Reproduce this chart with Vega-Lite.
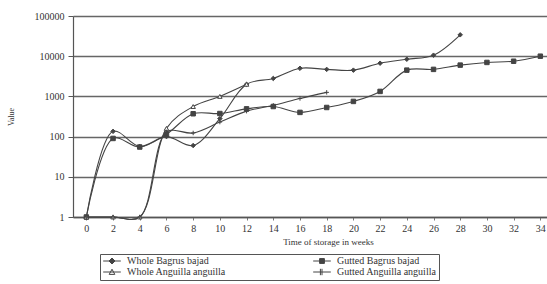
{
  "$schema": "https://vega.github.io/schema/vega-lite/v6.json",
  "width": 474,
  "height": 201,
  "autosize": "none",
  "padding": {"left": 73, "top": 16, "right": 0, "bottom": 67},
  "background": "white",
  "config": {"font": "Liberation Serif", "view": {"stroke": null}},
  "data": {"values": [
    {"series": "Whole Bagrus bajad", "week": 0, "value": 1},
    {"series": "Whole Bagrus bajad", "week": 2, "value": 135},
    {"series": "Whole Bagrus bajad", "week": 4, "value": 57},
    {"series": "Whole Bagrus bajad", "week": 6, "value": 100},
    {"series": "Whole Bagrus bajad", "week": 8, "value": 60},
    {"series": "Whole Bagrus bajad", "week": 10, "value": 280},
    {"series": "Whole Bagrus bajad", "week": 12, "value": 2000},
    {"series": "Whole Bagrus bajad", "week": 14, "value": 2800},
    {"series": "Whole Bagrus bajad", "week": 16, "value": 5000},
    {"series": "Whole Bagrus bajad", "week": 18, "value": 4700},
    {"series": "Whole Bagrus bajad", "week": 20, "value": 4500},
    {"series": "Whole Bagrus bajad", "week": 22, "value": 6700},
    {"series": "Whole Bagrus bajad", "week": 24, "value": 8400},
    {"series": "Whole Bagrus bajad", "week": 26, "value": 10600},
    {"series": "Whole Bagrus bajad", "week": 28, "value": 34000},
    {"series": "Gutted Bagrus bajad", "week": 0, "value": 1},
    {"series": "Gutted Bagrus bajad", "week": 2, "value": 90},
    {"series": "Gutted Bagrus bajad", "week": 4, "value": 55},
    {"series": "Gutted Bagrus bajad", "week": 6, "value": 115},
    {"series": "Gutted Bagrus bajad", "week": 8, "value": 370},
    {"series": "Gutted Bagrus bajad", "week": 10, "value": 375},
    {"series": "Gutted Bagrus bajad", "week": 12, "value": 490},
    {"series": "Gutted Bagrus bajad", "week": 14, "value": 560},
    {"series": "Gutted Bagrus bajad", "week": 16, "value": 400},
    {"series": "Gutted Bagrus bajad", "week": 18, "value": 530},
    {"series": "Gutted Bagrus bajad", "week": 20, "value": 750},
    {"series": "Gutted Bagrus bajad", "week": 22, "value": 1330},
    {"series": "Gutted Bagrus bajad", "week": 24, "value": 4500},
    {"series": "Gutted Bagrus bajad", "week": 26, "value": 4700},
    {"series": "Gutted Bagrus bajad", "week": 28, "value": 6000},
    {"series": "Gutted Bagrus bajad", "week": 30, "value": 7000},
    {"series": "Gutted Bagrus bajad", "week": 32, "value": 7500},
    {"series": "Gutted Bagrus bajad", "week": 34, "value": 10000},
    {"series": "Whole Anguilla anguilla", "week": 0, "value": 1},
    {"series": "Whole Anguilla anguilla", "week": 2, "value": 1},
    {"series": "Whole Anguilla anguilla", "week": 4, "value": 1},
    {"series": "Whole Anguilla anguilla", "week": 6, "value": 160},
    {"series": "Whole Anguilla anguilla", "week": 8, "value": 560},
    {"series": "Whole Anguilla anguilla", "week": 10, "value": 1000},
    {"series": "Whole Anguilla anguilla", "week": 12, "value": 2000},
    {"series": "Gutted Anguilla anguilla", "week": 0, "value": 1},
    {"series": "Gutted Anguilla anguilla", "week": 2, "value": 1},
    {"series": "Gutted Anguilla anguilla", "week": 4, "value": 1},
    {"series": "Gutted Anguilla anguilla", "week": 6, "value": 130},
    {"series": "Gutted Anguilla anguilla", "week": 8, "value": 123},
    {"series": "Gutted Anguilla anguilla", "week": 10, "value": 230},
    {"series": "Gutted Anguilla anguilla", "week": 12, "value": 430},
    {"series": "Gutted Anguilla anguilla", "week": 14, "value": 600},
    {"series": "Gutted Anguilla anguilla", "week": 16, "value": 890},
    {"series": "Gutted Anguilla anguilla", "week": 18, "value": 1260}
  ]},
  "encoding": {
    "x": {
      "field": "week", "type": "quantitative",
      "scale": {"domain": [-1, 34.5], "nice": false, "zero": false},
      "axis": {
        "values": [0, 2, 4, 6, 8, 10, 12, 14, 16, 18, 20, 22, 24, 26, 28, 30, 32, 34],
        "grid": false, "domain": true, "domainColor": "#555", "domainWidth": 1.5,
        "ticks": true, "tickSize": 3, "tickColor": "#777",
        "labelFontSize": 10, "labelColor": "#333", "labelPadding": 3,
        "title": "Time of storage in weeks", "titleFontSize": 9, "titleFontWeight": "normal",
        "titleColor": "#333", "titlePadding": 4, "titleX": 255
      }
    },
    "y": {
      "field": "value", "type": "quantitative",
      "scale": {"type": "log", "domain": [1, 100000], "nice": false},
      "axis": {
        "values": [1, 10, 100, 1000, 10000, 100000],
        "format": "d",
        "grid": true, "gridColor": "#666", "gridWidth": 1.4,
        "domain": true, "domainColor": "#555", "domainWidth": 1.2,
        "ticks": true, "tickSize": 5, "tickColor": "#555",
        "labelFontSize": 10, "labelColor": "#333", "labelPadding": 4,
        "title": "Value", "titleFontSize": 8, "titleFontWeight": "normal", "titleColor": "#333",
        "titleX": -58
      }
    }
  },
  "layer": [
    {
      "mark": {"type": "line", "interpolate": "catmull-rom", "strokeWidth": 1.1, "color": "#444"},
      "encoding": {"detail": {"field": "series"}}
    },
    {
      "mark": {"type": "point", "size": 20, "strokeWidth": 1, "stroke": "#444", "opacity": 1},
      "encoding": {
        "fill": {
          "field": "series", "type": "nominal",
          "scale": {
            "domain": ["Whole Bagrus bajad", "Whole Anguilla anguilla", "Gutted Bagrus bajad", "Gutted Anguilla anguilla"],
            "range": ["#444", "#ffffff", "#444", "#444"]
          },
          "legend": null
        },
        "shape": {
          "field": "series", "type": "nominal",
          "scale": {
            "domain": ["Whole Bagrus bajad", "Whole Anguilla anguilla", "Gutted Bagrus bajad", "Gutted Anguilla anguilla"],
            "range": ["diamond", "triangle-up", "square", "M-1,0L1,0M0,-1L0,1"]
          },
          "legend": null
        }
      }
    },
    {
      "mark": {"type": "point", "size": 64, "strokeWidth": 1, "stroke": "#444", "opacity": 0},
      "encoding": {
        "fill": {
          "field": "series", "type": "nominal",
          "scale": {
            "domain": ["Whole Bagrus bajad", "Whole Anguilla anguilla", "Gutted Bagrus bajad", "Gutted Anguilla anguilla"],
            "range": ["#444", "#ffffff", "#444", "#444"]
          },
          "legend": null
        },
        "shape": {
          "field": "series", "type": "nominal",
          "scale": {
            "domain": ["Whole Bagrus bajad", "Whole Anguilla anguilla", "Gutted Bagrus bajad", "Gutted Anguilla anguilla"],
            "range": [
              "M-2.2,0L2.2,0M0,-0.75L0.75,0L0,0.75L-0.75,0Z",
              "M-2.2,0L2.2,0M0,-0.7L0.7,0.6L-0.7,0.6Z",
              "M-2.2,0L2.2,0M-0.6,-0.6L0.6,-0.6L0.6,0.6L-0.6,0.6Z",
              "M-2.2,0L2.2,0M0,-0.8L0,0.8M-0.4,-0.8L-0.4,0.8"
            ]
          },
          "legend": {
            "orient": "none", "legendX": 27, "legendY": 238,
            "title": null, "columns": 2, "columnPadding": 85, "rowPadding": 0,
            "symbolSize": 64, "symbolOffset": 5, "labelOffset": 10,
            "symbolOpacity": 1, "symbolStrokeWidth": 1,
            "labelFontSize": 10, "labelColor": "#333",
            "strokeColor": "#555", "padding": 2
          }
        }
      }
    }
  ],
  "resolve": {"scale": {"shape": "independent", "fill": "independent"}}
}
